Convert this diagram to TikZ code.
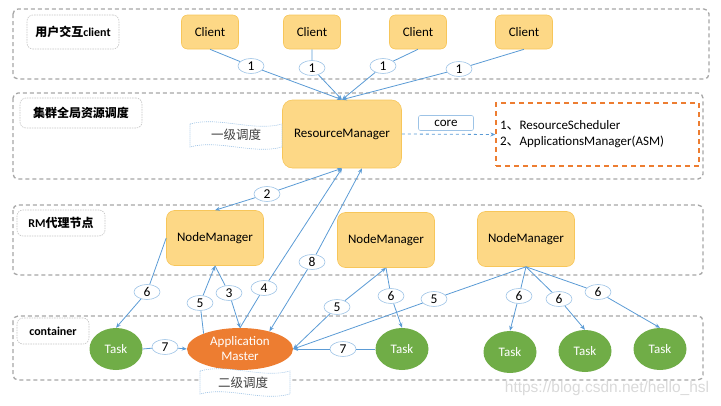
\documentclass[tikz,border=0pt]{standalone}
\usepackage{fontspec}
\setmainfont{Carlito}
\newfontfamily\cjk{Noto Sans CJK SC}
\newfontfamily\markfont{Liberation Sans}
\usetikzlibrary{arrows.meta,shapes.geometric}
\definecolor{bandgray}{HTML}{A6A6A6}
\definecolor{taggray}{HTML}{C4C4C4}
\definecolor{yarnfill}{HTML}{FDD886}
\definecolor{yarnline}{HTML}{F7C65A}
\definecolor{linkblue}{HTML}{5B9BD5}
\definecolor{numblue}{HTML}{9DC3E6}
\definecolor{taskgreen}{HTML}{70AD47}
\definecolor{amorange}{HTML}{ED7D31}

\begin{document}
\begin{tikzpicture}[x=1pt, y=-1pt, >={Stealth[length=5pt,width=4pt]},
  band/.style={draw=bandgray, line width=1.3pt, dash pattern=on 4pt off 3pt, rounded corners=5pt},
  tagbox/.style={draw=taggray, line width=0.6pt, dash pattern=on 1.5pt off 1pt, rounded corners=6pt,
    inner sep=0pt, font=\fontsize{12}{14}\selectfont\bfseries},
  yarnbox/.style={draw=yarnline, fill=yarnfill, line width=0.6pt, rounded corners=6pt,
    inner sep=0pt, font=\fontsize{13}{15}\selectfont},
  task/.style={ellipse, fill=taskgreen, text=white, minimum width=53pt, minimum height=42pt,
    inner sep=0pt, font=\fontsize{13}{15}\selectfont},
  num/.style={ellipse, draw=numblue, fill=white, line width=0.6pt, minimum width=26pt,
    minimum height=15pt, inner sep=0pt, font=\fontsize{13.5}{15}\selectfont},
  link/.style={draw=linkblue, line width=0.8pt},
  wave/.style={draw=numblue, fill=white, line width=0.6pt, dash pattern=on 1pt off 1pt}]
  \useasboundingbox (0,0) rectangle (721,405);

  % Draw bands
  \draw [band] (13,9) rectangle (709,79);
  \draw [band] (13,93) rectangle (703,179);
  \draw [band] (13,205) rectangle (703,275);
  \draw [band] (13,316) rectangle (703,380);
  \node [tagbox, minimum width=92pt, minimum height=34pt] (tagclient) at (73,32) {{\cjk 用户交互}client};
  \node [tagbox, minimum width=122pt, minimum height=30pt] (tagrm) at (81,113) {\cjk 集群全局资源调度};
  \node [tagbox, minimum width=88pt, minimum height=26pt] (tagnm) at (61,223) {RM{\cjk 代理节点}};
  \node [tagbox, minimum width=72pt, minimum height=26pt] (tagcon) at (53,331) {container};

  % Draw nodes
  \foreach \px [count=\i] in {210,312,418,524} {
    \node [yarnbox, minimum width=57pt, minimum height=34pt] (client\i) at (\px,32) {Client};
  }
  \node [yarnbox, rounded corners=10pt, minimum width=119pt, minimum height=68pt] (rm) at (342,134) {ResourceManager};
  \foreach \px/\py [count=\i] in {215/238, 386/240, 526/239} {
    \node [yarnbox, rounded corners=8pt, minimum width=97pt, minimum height=55pt] (nm\i) at (\px,\py) {NodeManager};
  }
  \node [ellipse, fill=amorange, text=white, minimum width=106pt, minimum height=42pt, inner sep=0pt,
    align=center, font=\fontsize{13}{15}\selectfont] (am) at (240,349) {Application\\Master};
  \foreach \px/\py [count=\i] in {116/349, 402/349, 510/352, 585/351, 660/349} {
    \node [task] (task\i) at (\px,\py) {Task};
  }
  \node [draw=numblue, line width=0.6pt, rounded corners=2pt, minimum width=55pt, minimum height=15pt,
    inner sep=0pt, font=\fontsize{13}{15}\selectfont] (core) at (446,123) {core};
  \node [draw=amorange, line width=1.3pt, dash pattern=on 5pt off 4pt, minimum width=203pt, minimum height=63pt,
    text width=195pt, inner xsep=4pt, align=left, font=\fontsize{13}{16}\selectfont] (asm) at (597.5,134.5)
    {1{\cjk 、}ResourceScheduler\\2{\cjk 、}ApplicationsManager(ASM)};

  % Draw banners
  \draw [wave] (190,124) .. controls (218,116) and (254,132) .. (282,124) -- (282,147)
    .. controls (254,155) and (218,139) .. (190,147) -- cycle;
  \node [font=\cjk\fontsize{12.5}{14}\selectfont, text=black!75] (levelone) at (236,135) {一级调度};
  \draw [wave] (200,371) .. controls (228,363) and (262,379) .. (290,371) -- (290,394)
    .. controls (262,402) and (228,386) .. (200,394) -- cycle;
  \node [font=\cjk\fontsize{12.5}{14}\selectfont, text=black!75] (leveltwo) at (243,383) {二级调度};

  % Draw labels
  \node [num] (n1a) at (251,66) {1};
  \node [num] (n1b) at (312,68) {1};
  \node [num] (n1c) at (383,66) {1};
  \node [num] (n1d) at (459,69) {1};
  \node [num] (n2) at (267,194) {2};
  \node [num] (n3) at (229,293) {3};
  \node [num] (n4) at (264,288) {4};
  \node [num] (n5a) at (200,303) {5};
  \node [num] (n5b) at (337,307) {5};
  \node [num] (n5c) at (434,299) {5};
  \node [num] (n6a) at (147,292) {6};
  \node [num] (n6b) at (391,296) {6};
  \node [num] (n6c) at (519,296) {6};
  \node [num] (n6d) at (559,299) {6};
  \node [num] (n6e) at (598,292) {6};
  \node [num] (n7a) at (165,347) {7};
  \node [num] (n7b) at (343,349) {7};
  \node [num] (n8) at (312,262) {8};

  % Draw links
  \foreach \i/\l in {1/a,2/b,3/c,4/d} {
    \draw [link,->] (client\i.south) -- (n1\l) -- (rm.north);
  }
  \draw [link,->,dashed] (rm.east) -- (asm.west);
  \draw [link,<-] (rm.south) -- (n2);
  \draw [link,->] (n2) -- (nm1.north);
  \draw [link,->] (nm1.south) -- (n3) -- (am.north);
  \draw [link,->] (am.north) -- (n4) -- (rm.south);
  \draw [link,->] (am.157) -- (n5a) -- (nm1.south);
  \draw [link,<-] (am.east) -- (n5b);
  \draw [link,->] (n5b) -- (nm2.south);
  \draw [link,->] (nm3.south) -- (n5c) -- (am.east);
  \draw [link,->] (nm1.west) -- (n6a) -- (task1.north);
  \draw [link,->] (nm2.south) -- (n6b) -- (task2.north);
  \foreach \l/\t in {c/3,d/4,e/5} {
    \draw [link,->] (nm3.south) -- (n6\l) -- (task\t.north);
  }
  \draw [link,->] (task1.east) -- (n7a) -- (am.west);
  \draw [link,->] (task2.west) -- (n7b) -- (am.east);
  \draw [link,<-] ([xshift=20pt]rm.south) -- (n8);
  \draw [link,->] (n8) -- (am.31);

  \node [font=\markfont\fontsize{15.5}{17}\selectfont, text=black!15] (mark) at (607,388) {https://blog.csdn.net/hello\_hsl};
\end{tikzpicture}
\end{document}
